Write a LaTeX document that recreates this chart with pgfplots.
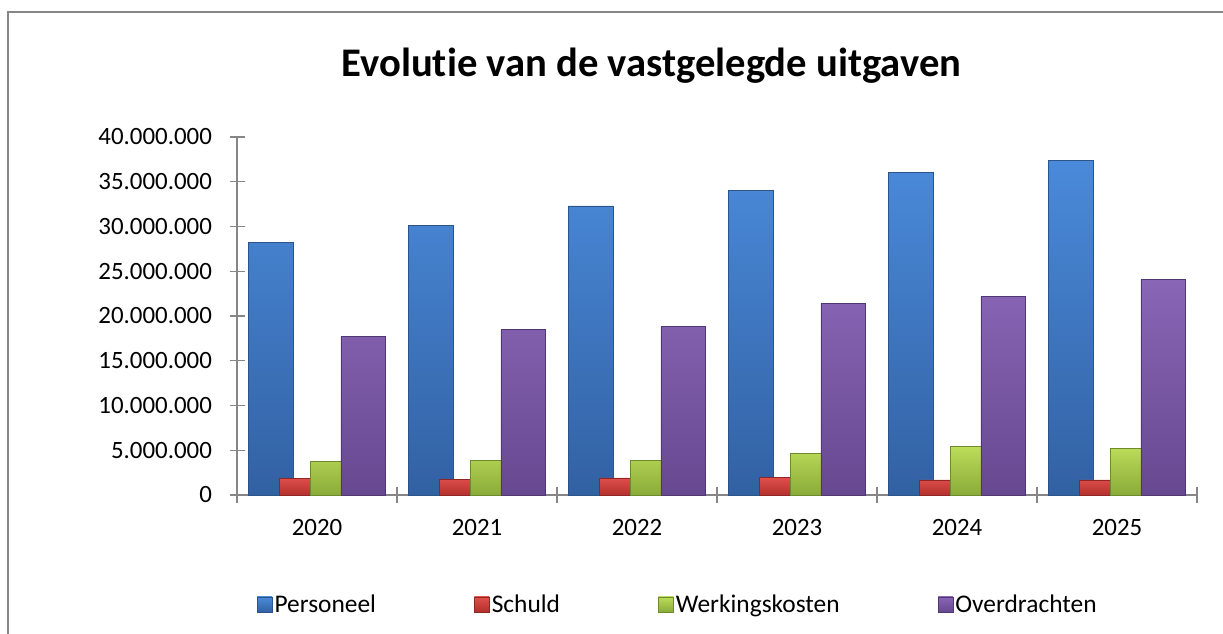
\documentclass[border=0pt]{standalone}
\usepackage{pgfplots}
\pgfplotsset{compat=1.18}
\usepackage{fontspec}
\setmainfont{Carlito}[Ligatures=NoCommon]
\definecolor{bluetop}{HTML}{4A8ADA}
\definecolor{bluebot}{HTML}{3261A3}
\definecolor{blueedge}{HTML}{2C5489}
\definecolor{redtop}{HTML}{E0504B}
\definecolor{redbot}{HTML}{B3302C}
\definecolor{rededge}{HTML}{8E2623}
\definecolor{greentop}{HTML}{BCDC5A}
\definecolor{greenbot}{HTML}{8AAB38}
\definecolor{greenedge}{HTML}{6E8A2C}
\definecolor{purptop}{HTML}{8A66B6}
\definecolor{purpbot}{HTML}{664890}
\definecolor{purpedge}{HTML}{4F3870}
\definecolor{axgray}{HTML}{868686}
\begin{document}
\begin{tikzpicture}[x=1bp,y=1bp]
\path[use as bounding box] (0,0) rectangle (1223,634);
\draw[color=axgray, line width=1.5bp] (8,0) -- (8,622) -- (1223,622);
\node[font=\fontsize{40.8}{44}\selectfont\bfseries, anchor=base] at (651.5,557.3) {Evolutie van de vastgelegde uitgaven};
\begin{axis}[
  at={(237bp,139bp)}, anchor=south west,
  scale only axis, width=960bp, height=358bp,
  xmin=-0.5, xmax=5.5, ymin=0, ymax=40000000,
  axis x line=bottom, axis y line=left,
  axis line style={draw=axgray, line width=1.3bp, -},
  xtick={0,1,2,3,4,5},
  xticklabels={2020,2021,2022,2023,2024,2025},
  minor xtick={-0.5,0.5,1.5,2.5,3.5,4.5,5.5},
  major x tick style={draw=none},
  minor x tick style={draw=axgray, line width=1.3bp},
  minor tick length=16bp,
  ytick={0,5000000,10000000,15000000,20000000,25000000,30000000,35000000,40000000},
  y tick style={draw=axgray, line width=1.3bp},
  major tick length=15bp,
  tick align=center,
  scaled y ticks=false,
  y tick label style={/pgf/number format/fixed, /pgf/number format/precision=0, /pgf/number format/1000 sep={.}, /pgf/number format/assume math mode=true},
  tick label style={font=\fontsize{25}{30}\selectfont, text=black},
  xticklabel style={yshift=-13bp},
  yticklabel style={xshift=-14bp},
  /pgfplots/mylegend/.style={legend image code/.code={\draw[##1] (-5bp,-7bp) rectangle (10bp,8bp);}},
  legend style={at={(0.459,-0.307)}, anchor=center, draw=none, fill=none,
    legend columns=4, font=\fontsize{25.5}{30}\selectfont,
    /tikz/every even column/.append style={column sep=96bp}},
  legend cell align=left,
  clip=false,
]
\addplot[ybar, bar width=0.281, bar shift=-0.29, draw=blueedge, line width=0.8bp, top color=bluetop, bottom color=bluebot, mylegend]
  coordinates {(0,28200000) (1,30100000) (2,32300000) (3,34000000) (4,36000000) (5,37400000)};
\addplot[ybar, bar width=0.281, bar shift=-0.097, draw=rededge, line width=0.8bp, top color=redtop, bottom color=redbot, mylegend]
  coordinates {(0,1870000) (1,1750000) (2,1900000) (3,1980000) (4,1680000) (5,1680000)};
\addplot[ybar, bar width=0.281, bar shift=0.097, draw=greenedge, line width=0.8bp, top color=greentop, bottom color=greenbot, mylegend]
  coordinates {(0,3760000) (1,3880000) (2,3880000) (3,4660000) (4,5400000) (5,5200000)};
\addplot[ybar, bar width=0.281, bar shift=0.29, draw=purpedge, line width=0.8bp, top color=purptop, bottom color=purpbot, mylegend]
  coordinates {(0,17700000) (1,18500000) (2,18800000) (3,21400000) (4,22200000) (5,24100000)};
\legend{Personeel,Schuld,Werkingskosten,Overdrachten}
\end{axis}
\end{tikzpicture}
\end{document}
